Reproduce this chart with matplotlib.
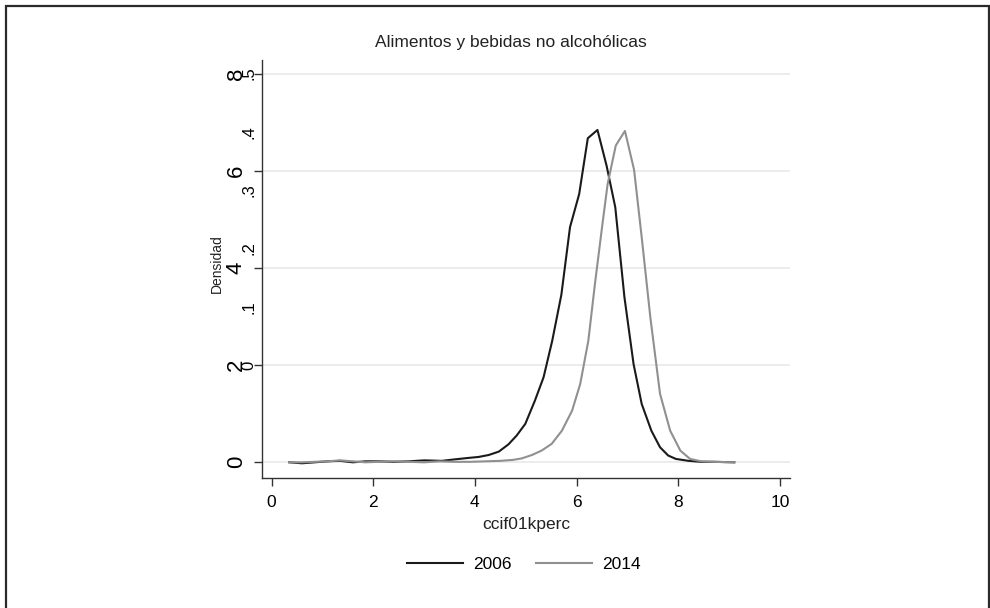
import matplotlib
matplotlib.use("Agg")
import matplotlib.pyplot as plt
from matplotlib.patches import Rectangle

# ---- data ----
x_2006 = [0.35, 0.6, 0.85, 1.1, 1.35, 1.6, 1.85, 2.1, 2.4, 2.7, 3.0, 3.35, 3.6, 3.87,
          4.07, 4.27, 4.47, 4.66, 4.82, 4.99, 5.18, 5.35, 5.52, 5.70, 5.87, 6.05, 6.22,
          6.41, 6.59, 6.76, 6.94, 7.12, 7.28, 7.47, 7.64, 7.80, 7.95, 8.2, 8.45, 8.7, 9.1]
y_2006 = [0.0, -0.02, 0.0, 0.02, 0.03, 0.0, 0.02, 0.02, 0.01, 0.02, 0.04, 0.03, 0.06, 0.09,
          0.11, 0.15, 0.22, 0.37, 0.55, 0.79, 1.27, 1.75, 2.5, 3.45, 4.84, 5.52, 6.67,
          6.84, 6.1, 5.25, 3.4, 2.02, 1.2, 0.65, 0.31, 0.14, 0.07, 0.03, 0.01, 0.01, 0.0]

x_2014 = [0.35, 0.6, 0.85, 1.1, 1.35, 1.6, 1.85, 2.1, 2.4, 2.7, 3.0, 3.3, 3.6, 3.9, 4.2,
          4.5, 4.75, 4.92, 5.12, 5.31, 5.51, 5.71, 5.91, 6.07, 6.23, 6.36, 6.5, 6.61, 6.77,
          6.95, 7.13, 7.28, 7.45, 7.64, 7.84, 8.04, 8.23, 8.45, 8.7, 9.1]
y_2014 = [0.0, 0.0, 0.01, 0.02, 0.04, 0.02, 0.0, 0.01, 0.02, 0.01, 0.0, 0.02, 0.01, 0.01, 0.02,
          0.03, 0.05, 0.08, 0.15, 0.24, 0.38, 0.65, 1.06, 1.61, 2.5, 3.67, 4.84, 5.73, 6.52,
          6.82, 6.02, 4.63, 2.98, 1.41, 0.65, 0.24, 0.07, 0.02, 0.01, 0.0]

x_ticks = [0, 2, 4, 6, 8, 10]
y_ticks = [0, 2, 4, 6, 8]
y2_ticks = [0, 0.1, 0.2, 0.3, 0.4, 0.5]
y2_labels = ["0", ".1", ".2", ".3", ".4", ".5"]

title = "Alimentos y bebidas no alcohólicas"
xlab = "ccif01kperc"
ylab = "Densidad"

plt.rcParams['font.family'] = ["Liberation Sans", "DejaVu Sans"]

W, H = 990, 608
fig = plt.figure(figsize=(W / 100, H / 100), dpi=100)
fig.patch.set_facecolor("white")

# outer frame
fig.patches.append(Rectangle((6 / W, -0.05), (989 - 6) / W, 1 - 6 / H + 0.05,
                             transform=fig.transFigure, fill=False,
                             edgecolor="#2a2a2a", lw=1.6))

l, r, t, b = 262, 790, 60, 478
ax = fig.add_axes([l / W, 1 - b / H, (r - l) / W, (b - t) / H])

ax.plot(x_2006, y_2006, color="#1a1a1a", lw=1.5, label="2006")
ax.plot(x_2014, y_2014, color="#909090", lw=1.5, label="2014")

ax.set_xlim(-0.187, 10.196)
ax.set_ylim(-0.323, 8.28)
ax.set_xticks(x_ticks)
ax.set_yticks(y_ticks)
ax.set_yticklabels([str(v) for v in y_ticks], rotation=90, va="center", fontsize=16)
ax.tick_params(axis="x", length=6, width=1, color="#333333", pad=6, labelsize=12.5)
ax.tick_params(axis="y", length=6, width=1, color="#333333", pad=5)
ax.grid(axis="y", color="#ebebeb", lw=1.3)
ax.set_axisbelow(True)
for s in ["top", "right"]:
    ax.spines[s].set_visible(False)
for s in ["left", "bottom"]:
    ax.spines[s].set_color("#333333")
    ax.spines[s].set_linewidth(1)

ax.set_xlabel(xlab, fontsize=12.5, labelpad=5, color="#222222")

# second set of y labels, overlapping the first
ax2 = ax.twinx()
ax2.set_ylim((-0.323 - 2) / 12, (8.28 - 2) / 12)
ax2.yaxis.set_ticks_position("left")
ax2.set_yticks(y2_ticks)
ax2.set_yticklabels(y2_labels, rotation=90, va="center", fontsize=12)
ax2.tick_params(axis="y", length=0, pad=4)
for s in ax2.spines.values():
    s.set_visible(False)

fig.text(217 / W, 1 - 264 / H, ylab, rotation=90, ha="center", va="center",
         fontsize=10, color="#222222")
fig.text(511 / W, 1 - 42 / H, title, ha="center", va="center",
         fontsize=12.5, color="#222222")

handles, labels = ax.get_legend_handles_labels()
fig.legend(handles, labels, loc="center", bbox_to_anchor=(524 / W, 1 - 564 / H),
           ncol=2, frameon=False, fontsize=12.5, handlelength=3.2,
           handletextpad=0.6, columnspacing=1.4)

fig.savefig("out.png", dpi=100, facecolor="white")
